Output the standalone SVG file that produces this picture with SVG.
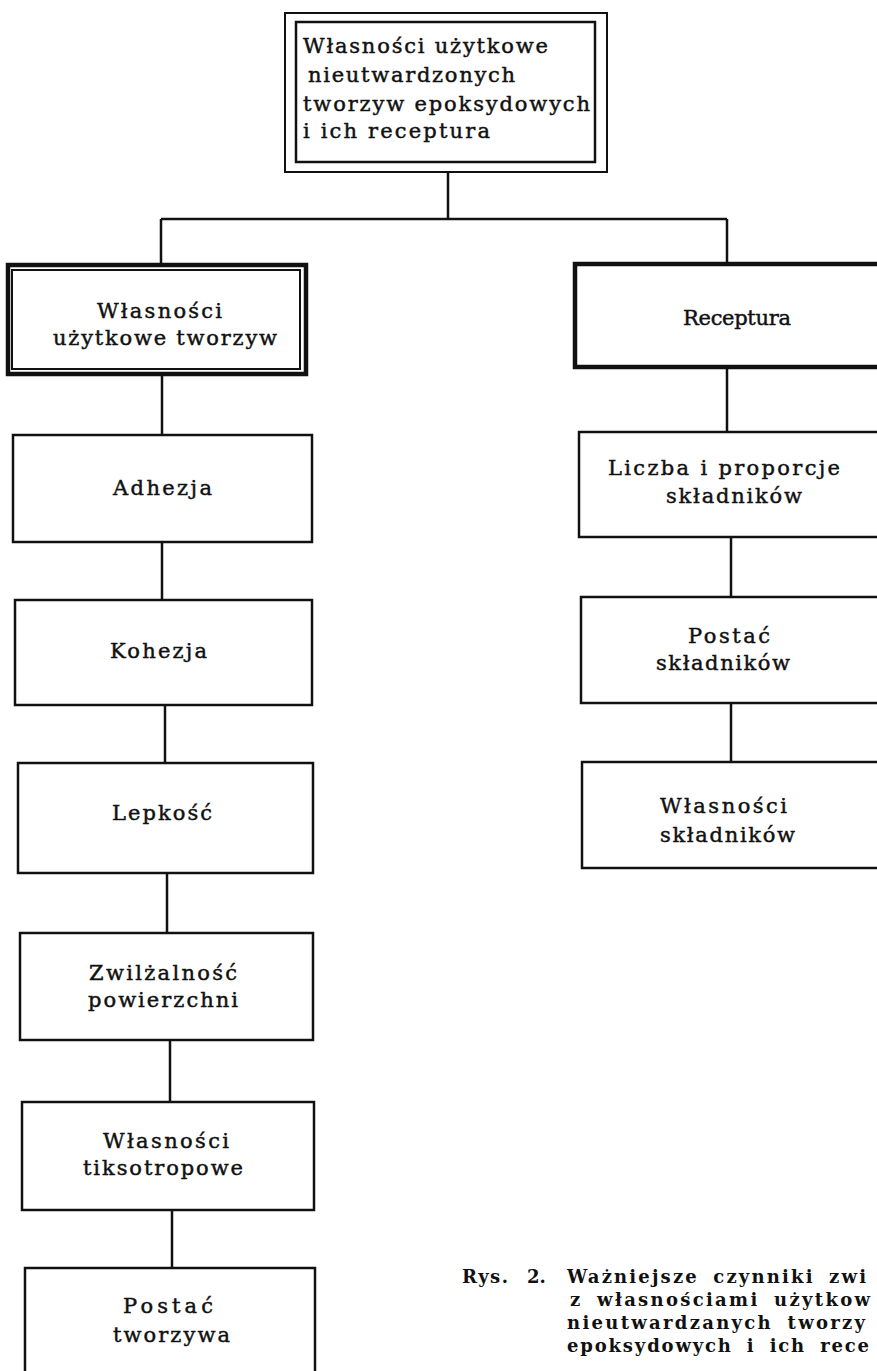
<svg xmlns="http://www.w3.org/2000/svg" width="877" height="1371" viewBox="0 0 877 1371">
<style>
.bg{fill:#fff}
.box{fill:#fff;stroke:#111;stroke-width:2.5}
.thin{fill:none;stroke:#111;stroke-width:2}
.thick{fill:#fff;stroke:#111;stroke-width:4.5}
.con{fill:none;stroke:#111;stroke-width:2.5}
.t{font-family:"DejaVu Serif","Liberation Serif",serif;font-size:21px;fill:#111;stroke:#111;stroke-width:0.45px}
.cap{font-family:"DejaVu Serif","Liberation Serif",serif;font-size:18px;font-weight:bold;fill:#111;word-spacing:6px}
</style>
<rect class="bg" x="0" y="0" width="877" height="1371"/>
<g id="connectors">
<path class="con" d="M448,172 V219 M161,219 H727 M161,219 V265 M727,219 V264"/>
<path class="con" d="M727,367 V432 M731,537 V597 M731,703 V762"/>
<path class="con" d="M162,374 V435 M162,542 V600 M165,705 V763 M167,873 V933 M170,1040 V1102 M172,1210 V1268"/>
</g>
<g id="root">
<rect class="thin" x="285" y="13" width="322" height="159"/>
<rect class="box" x="296" y="22" width="299" height="140"/>
<text class="t" x="303" y="53" textLength="245" lengthAdjust="spacing">Własności użytkowe</text>
<text class="t" x="308" y="82" textLength="207" lengthAdjust="spacing">nieutwardzonych</text>
<text class="t" x="303" y="111" textLength="287" lengthAdjust="spacing">tworzyw epoksydowych</text>
<text class="t" x="303" y="138" textLength="187" lengthAdjust="spacing">i ich receptura</text>
</g>
<g id="wlasnosci-uzytkowe">
<rect class="thick" x="8" y="265" width="298" height="109"/>
<rect class="thin" x="12" y="270" width="288" height="99"/>
<text class="t" x="97" y="318" textLength="125" lengthAdjust="spacing">Własności</text>
<text class="t" x="53" y="345" textLength="224" lengthAdjust="spacing">użytkowe tworzyw</text>
</g>
<g id="receptura">
<rect class="thick" x="575" y="264" width="330" height="103"/>
<text class="t" x="683" y="325" textLength="108" lengthAdjust="spacing">Receptura</text>
</g>
<g id="liczba">
<rect class="box" x="579" y="432" width="330" height="105"/>
<text class="t" x="608" y="475" textLength="232" lengthAdjust="spacing">Liczba i proporcje</text>
<text class="t" x="666" y="503" textLength="136" lengthAdjust="spacing">składników</text>
</g>
<g id="postac-skladnikow">
<rect class="box" x="581" y="597" width="330" height="106"/>
<text class="t" x="688" y="643" textLength="82" lengthAdjust="spacing">Postać</text>
<text class="t" x="656" y="670" textLength="134" lengthAdjust="spacing">składników</text>
</g>
<g id="wlasnosci-skladnikow">
<rect class="box" x="582" y="762" width="330" height="106"/>
<text class="t" x="660" y="813" textLength="127" lengthAdjust="spacing">Własności</text>
<text class="t" x="660" y="842" textLength="135" lengthAdjust="spacing">składników</text>
</g>
<g id="adhezja">
<rect class="box" x="13" y="435" width="299" height="107"/>
<text class="t" x="113" y="495" textLength="99" lengthAdjust="spacing">Adhezja</text>
</g>
<g id="kohezja">
<rect class="box" x="15" y="600" width="297" height="105"/>
<text class="t" x="110" y="658" textLength="97" lengthAdjust="spacing">Kohezja</text>
</g>
<g id="lepkosc">
<rect class="box" x="18" y="763" width="295" height="110"/>
<text class="t" x="112" y="820" textLength="100" lengthAdjust="spacing">Lepkość</text>
</g>
<g id="zwilzalnosc">
<rect class="box" x="20" y="933" width="293" height="107"/>
<text class="t" x="89" y="980" textLength="148" lengthAdjust="spacing">Zwilżalność</text>
<text class="t" x="88" y="1007" textLength="150" lengthAdjust="spacing">powierzchni</text>
</g>
<g id="tiksotropowe">
<rect class="box" x="22" y="1102" width="292" height="108"/>
<text class="t" x="103" y="1148" textLength="126" lengthAdjust="spacing">Własności</text>
<text class="t" x="83" y="1175" textLength="160" lengthAdjust="spacing">tiksotropowe</text>
</g>
<g id="postac-tworzywa">
<path class="con" d="M25,1371 V1268 H315 V1371"/>
<text class="t" x="123" y="1313" textLength="90" lengthAdjust="spacing">Postać</text>
<text class="t" x="113" y="1342" textLength="117" lengthAdjust="spacing">tworzywa</text>
</g>
<g id="caption">
<text class="cap" x="462" y="1283" textLength="46" lengthAdjust="spacing">Rys.</text>
<text class="cap" x="527" y="1283">2.</text>
<text class="cap" x="567" y="1283" textLength="299" lengthAdjust="spacing">Ważniejsze czynniki zwi</text>
<text class="cap" x="570" y="1306" textLength="300" lengthAdjust="spacing">z własnościami użytkow</text>
<text class="cap" x="567" y="1329" textLength="298" lengthAdjust="spacing">nieutwardzanych tworzy</text>
<text class="cap" x="567" y="1352" textLength="302" lengthAdjust="spacing">epoksydowych i ich rece</text>
</g>
</svg>
